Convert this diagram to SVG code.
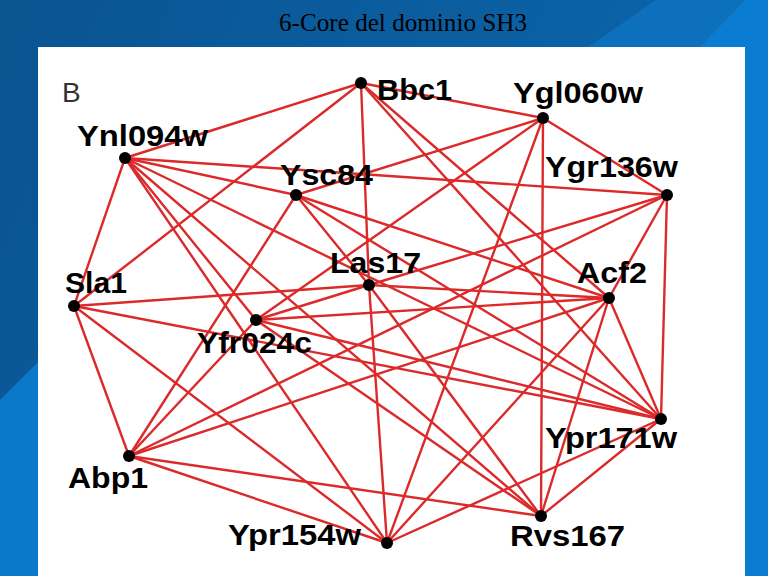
<svg xmlns="http://www.w3.org/2000/svg" width="768" height="576" viewBox="0 0 768 576">
<defs>
<linearGradient id="bg" x1="0" y1="0" x2="1" y2="0.3">
<stop offset="0" stop-color="#0a5491"/>
<stop offset="1" stop-color="#0b66ac"/>
</linearGradient>
<style>
.e{stroke:#dc2a2a;stroke-width:2.4;stroke-linecap:round;fill:none}
.n circle{fill:#000}
.n text{font-family:"Liberation Sans",Arial,sans-serif;font-weight:bold;font-size:29px;fill:#000}
</style>
</defs>
<rect width="768" height="576" fill="url(#bg)"/>
<polygon points="588,47 656,0 768,0 768,576 745,576 745,47" fill="#0c70bd"/>
<polygon points="700,47 745,0 768,0 768,576 745,576 745,47" fill="#0a7cd2"/>
<polygon points="0,400 38,362 38,576 0,576" fill="#0b78c9"/>
<text x="279" y="31" font-family="'Liberation Serif','Times New Roman',serif" font-size="25" fill="#000" textLength="248" lengthAdjust="spacingAndGlyphs">6-Core del dominio SH3</text>
<rect x="38" y="47" width="707" height="529" fill="#fff"/>
<text x="62" y="102" font-family="'Liberation Sans',Arial,sans-serif" font-size="28" fill="#333">B</text>
<g id="edges">
<line class="e" x1="361" y1="83" x2="125" y2="158"/>
<line class="e" x1="361" y1="83" x2="74" y2="306"/>
<line class="e" x1="361" y1="83" x2="369" y2="285"/>
<line class="e" x1="361" y1="83" x2="543" y2="118"/>
<line class="e" x1="361" y1="83" x2="609" y2="298"/>
<line class="e" x1="361" y1="83" x2="661" y2="419"/>
<line class="e" x1="543" y1="118" x2="667" y2="195"/>
<line class="e" x1="543" y1="118" x2="541" y2="516"/>
<line class="e" x1="543" y1="118" x2="296" y2="195"/>
<line class="e" x1="543" y1="118" x2="387" y2="543"/>
<line class="e" x1="543" y1="118" x2="256" y2="320"/>
<line class="e" x1="125" y1="158" x2="74" y2="306"/>
<line class="e" x1="125" y1="158" x2="667" y2="195"/>
<line class="e" x1="125" y1="158" x2="296" y2="195"/>
<line class="e" x1="125" y1="158" x2="541" y2="516"/>
<line class="e" x1="125" y1="158" x2="387" y2="543"/>
<line class="e" x1="125" y1="158" x2="256" y2="320"/>
<line class="e" x1="125" y1="158" x2="661" y2="419"/>
<line class="e" x1="296" y1="195" x2="129" y2="456"/>
<line class="e" x1="296" y1="195" x2="369" y2="285"/>
<line class="e" x1="296" y1="195" x2="661" y2="419"/>
<line class="e" x1="296" y1="195" x2="609" y2="298"/>
<line class="e" x1="667" y1="195" x2="661" y2="419"/>
<line class="e" x1="667" y1="195" x2="609" y2="298"/>
<line class="e" x1="667" y1="195" x2="369" y2="285"/>
<line class="e" x1="667" y1="195" x2="129" y2="456"/>
<line class="e" x1="369" y1="285" x2="387" y2="543"/>
<line class="e" x1="369" y1="285" x2="609" y2="298"/>
<line class="e" x1="369" y1="285" x2="541" y2="516"/>
<line class="e" x1="369" y1="285" x2="74" y2="306"/>
<line class="e" x1="369" y1="285" x2="256" y2="320"/>
<line class="e" x1="609" y1="298" x2="256" y2="320"/>
<line class="e" x1="609" y1="298" x2="129" y2="456"/>
<line class="e" x1="609" y1="298" x2="541" y2="516"/>
<line class="e" x1="609" y1="298" x2="387" y2="543"/>
<line class="e" x1="609" y1="298" x2="661" y2="419"/>
<line class="e" x1="74" y1="306" x2="661" y2="419"/>
<line class="e" x1="74" y1="306" x2="387" y2="543"/>
<line class="e" x1="74" y1="306" x2="129" y2="456"/>
<line class="e" x1="256" y1="320" x2="129" y2="456"/>
<line class="e" x1="256" y1="320" x2="661" y2="419"/>
<line class="e" x1="256" y1="320" x2="541" y2="516"/>
<line class="e" x1="661" y1="419" x2="541" y2="516"/>
<line class="e" x1="661" y1="419" x2="387" y2="543"/>
<line class="e" x1="129" y1="456" x2="541" y2="516"/>
<line class="e" x1="129" y1="456" x2="387" y2="543"/>
</g>
<g id="node-Bbc1" class="n"><circle cx="361" cy="83" r="6"/><text x="377" y="100" textLength="75" lengthAdjust="spacingAndGlyphs">Bbc1</text></g>
<g id="node-Ygl060w" class="n"><circle cx="543" cy="118" r="6"/><text x="513" y="103" textLength="130" lengthAdjust="spacingAndGlyphs">Ygl060w</text></g>
<g id="node-Ynl094w" class="n"><circle cx="125" cy="158" r="6"/><text x="77" y="146" textLength="131" lengthAdjust="spacingAndGlyphs">Ynl094w</text></g>
<g id="node-Ysc84" class="n"><circle cx="296" cy="195" r="6"/><text x="280" y="185" textLength="93" lengthAdjust="spacingAndGlyphs">Ysc84</text></g>
<g id="node-Ygr136w" class="n"><circle cx="667" cy="195" r="6"/><text x="545" y="177" textLength="133" lengthAdjust="spacingAndGlyphs">Ygr136w</text></g>
<g id="node-Las17" class="n"><circle cx="369" cy="285" r="6"/><text x="330" y="273" textLength="91" lengthAdjust="spacingAndGlyphs">Las17</text></g>
<g id="node-Acf2" class="n"><circle cx="609" cy="298" r="6"/><text x="577" y="283" textLength="70" lengthAdjust="spacingAndGlyphs">Acf2</text></g>
<g id="node-Sla1" class="n"><circle cx="74" cy="306" r="6"/><text x="65" y="293" textLength="62" lengthAdjust="spacingAndGlyphs">Sla1</text></g>
<g id="node-Yfr024c" class="n"><circle cx="256" cy="320" r="6"/><text x="197" y="353" textLength="115" lengthAdjust="spacingAndGlyphs">Yfr024c</text></g>
<g id="node-Ypr171w" class="n"><circle cx="661" cy="419" r="6"/><text x="545" y="448" textLength="132" lengthAdjust="spacingAndGlyphs">Ypr171w</text></g>
<g id="node-Abp1" class="n"><circle cx="129" cy="456" r="6"/><text x="68" y="488" textLength="80" lengthAdjust="spacingAndGlyphs">Abp1</text></g>
<g id="node-Rvs167" class="n"><circle cx="541" cy="516" r="6"/><text x="510" y="546" textLength="115" lengthAdjust="spacingAndGlyphs">Rvs167</text></g>
<g id="node-Ypr154w" class="n"><circle cx="387" cy="543" r="6"/><text x="228" y="545" textLength="133" lengthAdjust="spacingAndGlyphs">Ypr154w</text></g>
</svg>
